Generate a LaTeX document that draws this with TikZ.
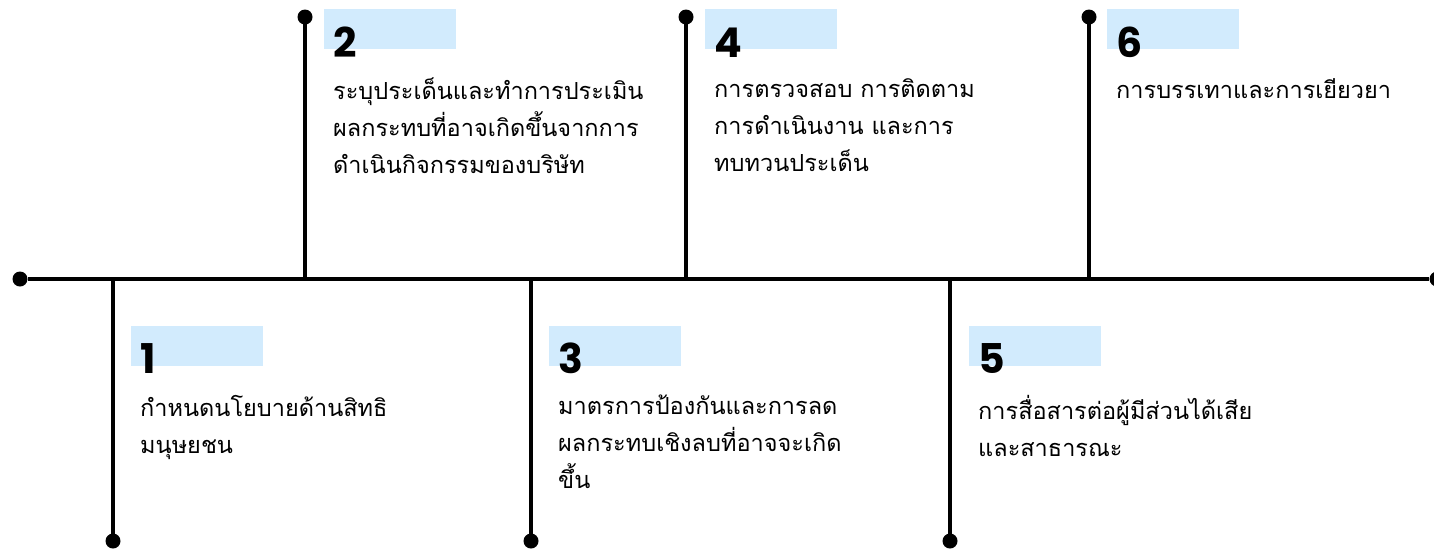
\documentclass[tikz,border=0pt]{standalone}
\usepackage{fontspec}
\setmainfont{Poppins}
\newfontfamily\thaifont[Script=Thai]{Loma}
\newfontfamily\numfont{Poppins}
\definecolor{tagblue}{RGB}{210,235,253}
\definecolor{ink}{RGB}{0,0,0}
\tikzset{
  rail/.style={draw=ink, line width=3.8pt},
  dot/.style={circle, fill=ink, inner sep=0pt, minimum size=15pt},
  num/.style={anchor=base west, inner sep=0pt, font=\numfont\bfseries\fontsize{41}{41}\selectfont, text=ink},
  label/.style={anchor=north west, inner sep=0pt, align=left, text=ink,
                font=\thaifont\fontsize{23.5}{37}\selectfont},
}
\begin{document}
\begin{tikzpicture}[x=1pt, y=-1pt]
\useasboundingbox (0,0) rectangle (1434,550);
% highlight tags behind the step numbers
\fill[tagblue] (131,326) rectangle (263,366);
\fill[tagblue] (324,9) rectangle (456,49);
\fill[tagblue] (549,326) rectangle (681,366);
\fill[tagblue] (705,9) rectangle (837,49);
\fill[tagblue] (969,326) rectangle (1101,366);
\fill[tagblue] (1107,9) rectangle (1239,49);
% end dots
\node[dot] (L) at (20,279) {};
\node[dot] (R) at (1437,279) {};
\node[dot] (d1) at (113,541) {};
\node[dot] (d2) at (305,17) {};
\node[dot] (d3) at (531,541) {};
\node[dot] (d4) at (686,17) {};
\node[dot] (d5) at (950,541) {};
\node[dot] (d6) at (1089,17) {};
% junctions on the main axis
\coordinate (j1) at (113,279);
\coordinate (j2) at (305,279);
\coordinate (j3) at (531,279);
\coordinate (j4) at (686,279);
\coordinate (j5) at (950,279);
\coordinate (j6) at (1089,279);
\draw[rail] (L) -- (R);
\foreach \i in {1,...,6} { \draw[rail] (j\i) -- (d\i.center); }
% step numbers
\node[num] (n1) at (140,373) {1};
\node[num] (n2) at (333,57) {2};
\node[num] (n3) at (558,373) {3};
\node[num] (n4) at (714,57) {4};
\node[num] (n5) at (978,373) {5};
\node[num] (n6) at (1116,57) {6};
% step descriptions
\node[label] (t1) at (140,395) {กำหนดนโยบายด้านสิทธิ\\มนุษยชน};
\node[label] (t2) at (333,78) {ระบุประเด็นและทำการประเมิน\\ผลกระทบที่อาจเกิดขึ้นจากการ\\ดำเนินกิจกรรมของบริษัท};
\node[label] (t3) at (558,395) {มาตรการป้องกันและการลด\\ผลกระทบเชิงลบที่อาจจะเกิด\\ขึ้น};
\node[label] (t4) at (714,78) {การตรวจสอบ การติดตาม\\การดำเนินงาน และการ\\ทบทวนประเด็น};
\node[label] (t5) at (978,395) {การสื่อสารต่อผู้มีส่วนได้เสีย\\และสาธารณะ};
\node[label] (t6) at (1116,78) {การบรรเทาและการเยียวยา};
\end{tikzpicture}
\end{document}
